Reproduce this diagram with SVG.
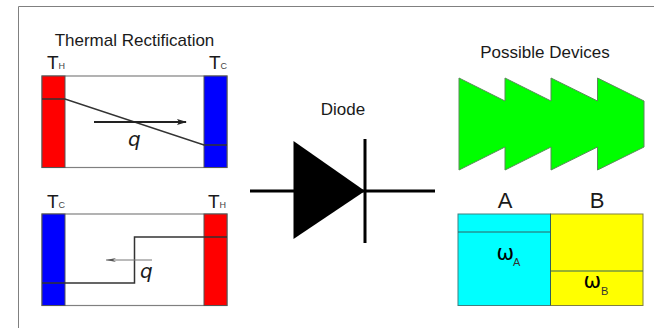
<svg xmlns="http://www.w3.org/2000/svg" width="654" height="328" viewBox="0 0 654 328">
<style>
text{font-family:"Liberation Sans",Arial,sans-serif;fill:#1a1a1a}
.t{font-size:17px}
.b{font-size:19px}
.s{font-size:9px;fill:#444}
.u{font-size:11px;fill:#333}
.box{fill:#fff;stroke:#808080;stroke-width:1.200}
.k{fill:none;stroke:#333;stroke-width:1.500}
.d{fill:none;stroke:#000;stroke-width:3}
.e{stroke:#555;stroke-width:1}
.q{font-family:"DejaVu Sans",sans-serif;font-size:20px;font-style:italic}
.w{font-family:"DejaVu Sans",sans-serif;font-size:21px;fill:#000}
</style>
<defs>
<marker id="ah" markerWidth="10" markerHeight="6" refX="9" refY="3" orient="auto" markerUnits="userSpaceOnUse"><path d="M0 0L10 3L0 6L2 3Z" fill="#222"/></marker>
<marker id="ah2" markerWidth="11" markerHeight="5" refX="10" refY="2.500" orient="auto" markerUnits="userSpaceOnUse"><path d="M0 .5L10 2.500L0 4.500L3 2.500Z" fill="#555"/></marker>
</defs>
<path d="M18.500 328V6.500H654" fill="none" stroke="#808080"/>
<text class="t" x="134.500" y="46" text-anchor="middle">Thermal Rectification</text>
<g id="rect-top">
<rect class="box" x="42" y="76" width="185" height="91.500"/>
<rect class="e" x="42" y="76" width="23" height="91.500" fill="#f00"/>
<rect class="e" x="204" y="76" width="23" height="91.500" fill="#00f"/>
<path class="k" d="M42 99H65L204 145H227"/>
<path d="M94 122H186" stroke="#222" stroke-width="2" marker-end="url(#ah)"/>
<text class="q" x="128" y="146">q</text>
<text class="b" x="47" y="69">T<tspan class="s">H</tspan></text>
<text class="b" x="209" y="69">T<tspan class="s">C</tspan></text>
</g>
<g id="rect-bottom">
<rect class="box" x="42" y="214" width="185" height="91.500"/>
<rect class="e" x="42" y="214" width="23" height="91.500" fill="#00f"/>
<rect class="e" x="204" y="214" width="23" height="91.500" fill="#f00"/>
<path class="k" d="M227 237H134.500V283H42"/>
<path d="M152 260H106" stroke="#777" stroke-width="1" marker-end="url(#ah2)"/>
<text class="q" x="140" y="278">q</text>
<text class="b" x="47" y="208">T<tspan class="s">C</tspan></text>
<text class="b" x="208" y="208">T<tspan class="s">H</tspan></text>
</g>
<g id="diode">
<text class="t" x="343" y="115" text-anchor="middle">Diode</text>
<path d="M293.500 141L365 191L293.500 239Z" fill="#000"/>
<path class="d" d="M250 191H435M365 139V243"/>
</g>
<g id="devices">
<text class="t" x="545" y="58" text-anchor="middle">Possible Devices</text>
<path d="M459 78L505 101V78L551 101V78L597.500 101V78L644 101V147L597.500 170V147L551 170V147L505 170V147L459 170Z" fill="#0f0" stroke="#5a8a5a"/>
</g>
<g id="junction">
<text x="505" y="208" text-anchor="middle" style="font-size:22px">A</text>
<text x="597" y="208" text-anchor="middle" style="font-size:22px">B</text>
<rect x="458" y="214" width="92.500" height="91.500" fill="#0ff" stroke="#408080"/>
<rect x="550.500" y="214" width="92.500" height="91.500" fill="#ff0" stroke="#808040"/>
<path d="M458 232H550.500M550.500 271H643M550.500 214V305.500" stroke="#306060" fill="none"/>
<text class="w" x="496.500" y="260">ω</text>
<text class="u" x="513" y="266">A</text>
<text class="w" x="583.500" y="288">ω</text>
<text class="u" x="601" y="295">B</text>
</g>
</svg>
